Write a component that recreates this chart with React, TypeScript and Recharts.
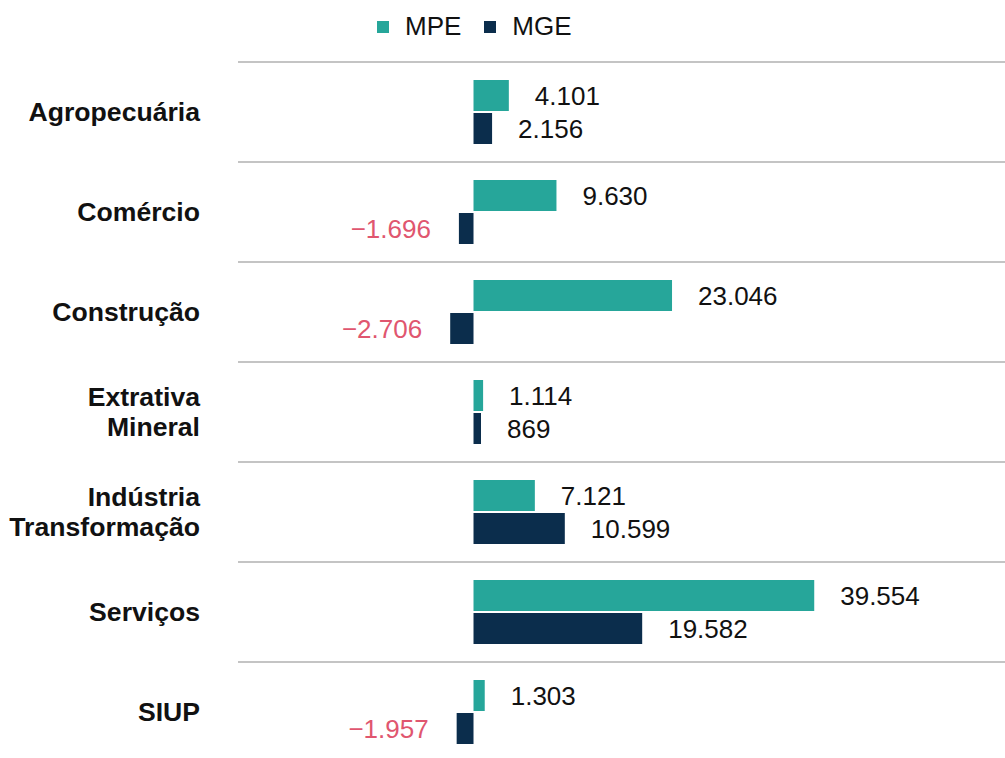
import { Bar, BarChart, CartesianGrid, LabelList, Legend, XAxis, YAxis } from "recharts";

const sectors = [
  "Agropecuária",
  "Comércio",
  "Construção",
  "Extrativa\nMineral",
  "Indústria\nTransformação",
  "Serviços",
  "SIUP",
];
const mpe = [4101, 9630, 23046, 1114, 7121, 39554, 1303];
const mge = [2156, -1696, -2706, 869, 10599, 19582, -1957];
const separators = [0, 1, 2, 3, 4, 5, 6, 7];

const FONT = '"Liberation Sans", Arial, sans-serif';
const TEAL = "#26a69a";
const NAVY = "#0b2d4c";
const NEG = "#e0566f";

const data = sectors.map((s, i) => ({ sector: s, mpe: mpe[i], mge: mge[i] }));

function fmt(n: number) {
  const s = String(Math.abs(n)).replace(/\B(?=(\d{3})+(?!\d))/g, ".");
  return n < 0 ? `\u2212${s}` : s;
}

function SectorTick({ x, y, payload }: any) {
  const lines = String(payload.value).split("\n");
  const start = -((lines.length - 1) * 30) / 2;
  return (
    <text x={x} y={y} textAnchor="end" fontFamily={FONT} fontSize={26.6} fontWeight="bold" fill="#111">
      {lines.map((l, i) => (
        <tspan key={i} x={x} y={y + start + i * 30} dominantBaseline="central">
          {l}
        </tspan>
      ))}
    </text>
  );
}

function ValueLabel({ x, y, width, height, value }: any) {
  const v = Number(value);
  const left = Math.min(x, x + width);
  const right = Math.max(x, x + width);
  const cy = y + height / 2;
  if (v < 0) {
    return (
      <text x={left - 28} y={cy} textAnchor="end" dominantBaseline="central" fontFamily={FONT} fontSize={26} fill={NEG}>
        {fmt(v)}
      </text>
    );
  }
  return (
    <text x={right + 26} y={cy} textAnchor="start" dominantBaseline="central" fontFamily={FONT} fontSize={26} fill="#111">
      {fmt(v)}
    </text>
  );
}

function LegendContent() {
  const items = [
    { name: "MPE", color: TEAL },
    { name: "MGE", color: NAVY },
  ];
  return (
    <div style={{ display: "flex", alignItems: "center", fontFamily: FONT, fontSize: 26, color: "#111" }}>
      {items.map((it) => (
        <span key={it.name} style={{ display: "flex", alignItems: "center", marginRight: 23 }}>
          <span style={{ width: 12, height: 12, background: it.color, marginRight: 16, display: "inline-block" }} />
          {it.name}
        </span>
      ))}
    </div>
  );
}

export default function App() {
  return (
    <div style={{ position: "absolute", top: 0, left: 0, background: "#fff" }}>
      <BarChart
        width={1005}
        height={770}
        data={data}
        layout="vertical"
        margin={{ top: 62, right: 0, bottom: 8, left: 0 }}
        barSize={31}
        barGap={2}
      >
        <CartesianGrid
          vertical={false}
          stroke="#c4c4c4"
          strokeWidth={2}
          horizontalCoordinatesGenerator={({ offset }: any) =>
            separators.map((i) => offset.top + (i * offset.height) / sectors.length)
          }
        />
        <XAxis type="number" hide domain={[-27340, 61700]} />
        <YAxis
          type="category"
          dataKey="sector"
          width={238}
          tickSize={0}
          tickMargin={38}
          axisLine={false}
          tickLine={false}
          tick={<SectorTick />}
          interval={0}
        />
        <Legend
          layout="horizontal"
          verticalAlign="middle"
          wrapperStyle={{ top: 11, left: 377, width: "auto" }}
          content={<LegendContent />}
        />
        <Bar dataKey="mpe" name="MPE" fill={TEAL} isAnimationActive={false}>
          <LabelList dataKey="mpe" content={<ValueLabel />} />
        </Bar>
        <Bar dataKey="mge" name="MGE" fill={NAVY} isAnimationActive={false}>
          <LabelList dataKey="mge" content={<ValueLabel />} />
        </Bar>
      </BarChart>
    </div>
  );
}
